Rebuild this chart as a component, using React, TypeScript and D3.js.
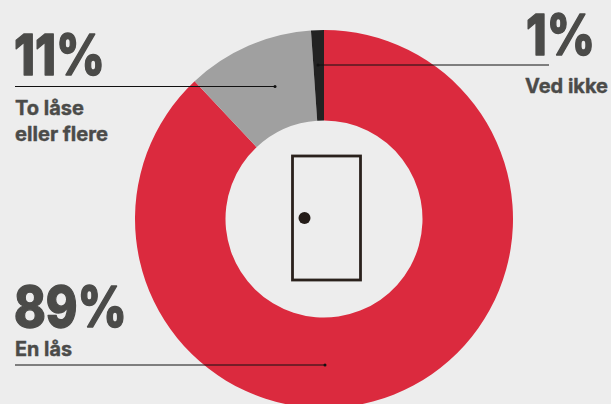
import React from "react";
import * as d3 from "d3";

const sliceNames = ["En lås", "To låse eller flere", "Ved ikke"];
const sliceValues = [88, 10.9, 1.1];
const sliceColors = ["#db2a3e", "#a0a0a0", "#222222"];
const percentLabels = ["89%", "11%", "1%"];

const W = 611, H = 404, cx = 324, cy = 219, R = 189, r = 98.5;
const font = "Inter, sans-serif";
const textColor = "#4b4b49";

export default function App() {
  const pie = d3.pie<number>().sort(null)(sliceValues);
  const arc = d3.arc<d3.PieArcDatum<number>>().innerRadius(r).outerRadius(R);
  const big = (t: string, x: number, y: number, w: number) => (
    <text x={x} y={y} fontFamily={font} fontWeight={800} fontSize={56} fill={textColor}
      stroke={textColor} strokeWidth={1.4} strokeLinejoin="round"
      textLength={w} lengthAdjust="spacingAndGlyphs">{t}</text>
  );
  const small = (t: string, x: number, y: number, w: number) => (
    <text x={x} y={y} fontFamily={font} fontWeight={700} fontSize={19.5} fill={textColor}
      stroke={textColor} strokeWidth={0.4} strokeLinejoin="round"
      textLength={w} lengthAdjust="spacingAndGlyphs">{t}</text>
  );
  const leader = (x1: number, x2: number, y: number, dotX: number) => (
    <g>
      <line x1={x1} x2={x2} y1={y} y2={y} stroke="#111" strokeWidth={1} />
      <circle cx={dotX} cy={y} r={1.5} fill="#111" />
    </g>
  );
  return (
    <svg width={W} height={H} style={{ position: "absolute", left: 0, top: 0, background: "#ededed" }}>
      <g transform={`translate(${cx},${cy})`}>
        {pie.map((d, i) => <path key={sliceNames[i]} d={arc(d) ?? ""} fill={sliceColors[i]} />)}
      </g>
      <rect x={292.5} y={156} width={68} height={124} fill="none" stroke="#2a211c" strokeWidth={2.8} />
      <circle cx={304.5} cy={218} r={6} fill="#241c18" />
      {big(percentLabels[1], 14, 75, 91)}
      {leader(15, 275, 86.5, 275)}
      {small("To låse", 15, 115, 69)}
      {small("eller flere", 15, 141, 93)}
      {big(percentLabels[2], 526, 55, 69)}
      {leader(318, 549, 65, 318)}
      {small("Ved ikke", 525, 93, 83)}
      {big(percentLabels[0], 14, 327, 113)}
      {small(sliceNames[0], 15, 356, 57)}
      {leader(15, 325, 365, 325)}
    </svg>
  );
}
